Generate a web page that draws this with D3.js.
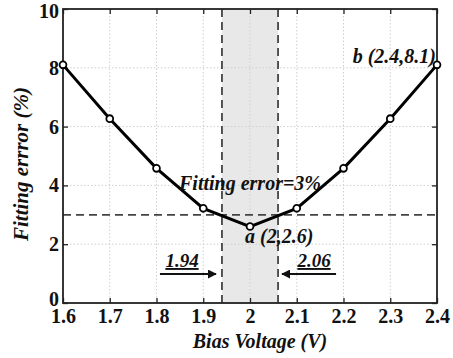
<!DOCTYPE html>
<html>
<head>
<meta charset="utf-8">
<script src="https://cdn.jsdelivr.net/npm/d3@7"></script>
<style>
  html, body { margin: 0; padding: 0; background: #fff; }
  svg { display: block; }
  text { font-family: "Liberation Serif", "Times New Roman", serif; font-weight: bold; }
</style>
</head>
<body>
<svg id="chart" width="453" height="358"></svg>
<script>
// Fitting error versus bias voltage
const voltages = [1.6, 1.7, 1.8, 1.9, 2.0, 2.1, 2.2, 2.3, 2.4];
const fitError = [8.1, 6.27, 4.58, 3.22, 2.6, 3.22, 4.58, 6.27, 8.1];
const xTicks = [1.6, 1.7, 1.8, 1.9, 2.0, 2.1, 2.2, 2.3, 2.4];
const yTicks = [0, 2, 4, 6, 8, 10];
const threshold = 3;
const band = [1.94, 2.06];

const margin = { left: 63, right: 16, top: 9, bottom: 55 };
const W = 453, H = 358;
const svg = d3.select("#chart");

const x = d3.scaleLinear().domain([1.6, 2.4]).range([margin.left, W - margin.right]);
const y = d3.scaleLinear().domain([0, 10]).range([H - margin.bottom, margin.top]);

const x0 = x.range()[0], x1 = x.range()[1];
const yB = y.range()[0], yT = y.range()[1];

// shaded voltage window
svg.append("rect")
  .attr("x", x(band[0])).attr("y", yT)
  .attr("width", x(band[1]) - x(band[0])).attr("height", yB - yT)
  .attr("fill", "#e8e8e8");

// dotted grid
const grid = svg.append("g").attr("stroke", "#cfcfcf").attr("stroke-width", 1)
  .attr("stroke-dasharray", "1.5,2");
grid.selectAll(".gx").data(xTicks.slice(1, -1)).enter().append("line")
  .attr("x1", d => x(d)).attr("x2", d => x(d)).attr("y1", yT).attr("y2", yB);
grid.selectAll(".gy").data(yTicks.slice(1, -1)).enter().append("line")
  .attr("y1", d => y(d)).attr("y2", d => y(d)).attr("x1", x0).attr("x2", x1);

// axes with inward ticks on all four sides
const fmtX = d => d === 2 ? "2" : d3.format(".1f")(d);
const axisStyle = g => {
  g.select(".domain").remove();
  g.selectAll(".tick line").attr("stroke", "#222").attr("stroke-width", 1.3);
  g.selectAll(".tick text").attr("fill", "#111").style("font-size", "20px")
    .style("font-family", "'Liberation Serif', serif").style("font-weight", "bold");
};
svg.append("g").attr("transform", `translate(0,${yB})`)
  .call(d3.axisBottom(x).tickValues(xTicks).tickFormat(fmtX).tickSize(-5).tickPadding(6))
  .call(axisStyle);
svg.append("g").attr("transform", `translate(0,${yT})`)
  .call(d3.axisTop(x).tickValues(xTicks).tickFormat("").tickSize(-5))
  .call(axisStyle);
svg.append("g").attr("transform", `translate(${x0},0)`)
  .call(d3.axisLeft(y).tickValues(yTicks).tickSize(-5).tickPadding(4))
  .call(axisStyle)
  .call(g => g.selectAll(".tick text").filter(d => d === 0).attr("dy", "0.1em"))
  .call(g => g.selectAll(".tick text").filter(d => d === 10).attr("dy", "0.42em"));
svg.append("g").attr("transform", `translate(${x1},0)`)
  .call(d3.axisRight(y).tickValues(yTicks).tickFormat("").tickSize(-5))
  .call(axisStyle);

// threshold and window boundaries
const dash = svg.append("g").attr("stroke", "#444").attr("stroke-width", 1.8)
  .attr("stroke-dasharray", "8,5").attr("fill", "none");
dash.append("line").attr("x1", x0).attr("x2", x1).attr("y1", y(threshold)).attr("y2", y(threshold));
band.forEach(v => dash.append("line").attr("x1", x(v)).attr("x2", x(v)).attr("y1", yT).attr("y2", yB));

// frame
svg.append("rect").attr("x", x0).attr("y", yT).attr("width", x1 - x0).attr("height", yB - yT)
  .attr("fill", "none").attr("stroke", "#222").attr("stroke-width", 1.8);

// error curve
const pts = voltages.map((v, i) => [v, fitError[i]]);
svg.append("path").datum(pts)
  .attr("fill", "none").attr("stroke", "#000").attr("stroke-width", 3)
  .attr("d", d3.line().x(d => x(d[0])).y(d => y(d[1])));
svg.selectAll(".mk").data(pts).enter().append("circle")
  .attr("cx", d => x(d[0])).attr("cy", d => y(d[1])).attr("r", 3.4)
  .attr("fill", "#fff").attr("stroke", "#000").attr("stroke-width", 1.8);

// annotations
const ann = (t, tx, ty, size, anchor) => svg.append("text")
  .attr("x", tx).attr("y", ty).attr("text-anchor", anchor || "start")
  .style("font-size", size + "px").style("font-style", "italic").attr("fill", "#111").text(t);

ann("Fitting error=3%", 250, 190, 20, "middle");
ann(`a (${voltages[4] === 2 ? "2" : voltages[4]},${fitError[4]})`, 245, 243, 20);
ann(`b (${voltages[8]},${fitError[8]})`, 436, 63, 20, "end");

// window edge labels with arrows
svg.append("defs").append("marker").attr("id", "ah").attr("viewBox", "0 0 10 10")
  .attr("refX", 9).attr("refY", 5).attr("markerWidth", 5).attr("markerHeight", 5)
  .attr("orient", "auto-start-reverse")
  .append("path").attr("d", "M0,0 L10,5 L0,10 Z").attr("fill", "#111");

const edge = (v, tx, ax0, ax1) => {
  ann(String(v), tx, 267, 19, "middle").style("text-decoration", "underline");
  svg.append("line").attr("x1", ax0).attr("x2", ax1).attr("y1", 274).attr("y2", 274)
    .attr("stroke", "#111").attr("stroke-width", 1.8).attr("marker-end", "url(#ah)");
};
edge(band[0], 182, x(band[0]) - 62, x(band[0]) - 6);
edge(band[1], 314, x(band[1]) + 58, x(band[1]) + 4);

// axis titles
ann("Bias Voltage (V)", 260, 348, 20, "middle");
svg.append("text")
  .attr("transform", `translate(28,164) rotate(-90)`)
  .attr("text-anchor", "middle").style("font-size", "21px").style("font-style", "italic")
  .attr("fill", "#111").text("Fitting errror (%)");
</script>
</body>
</html>
